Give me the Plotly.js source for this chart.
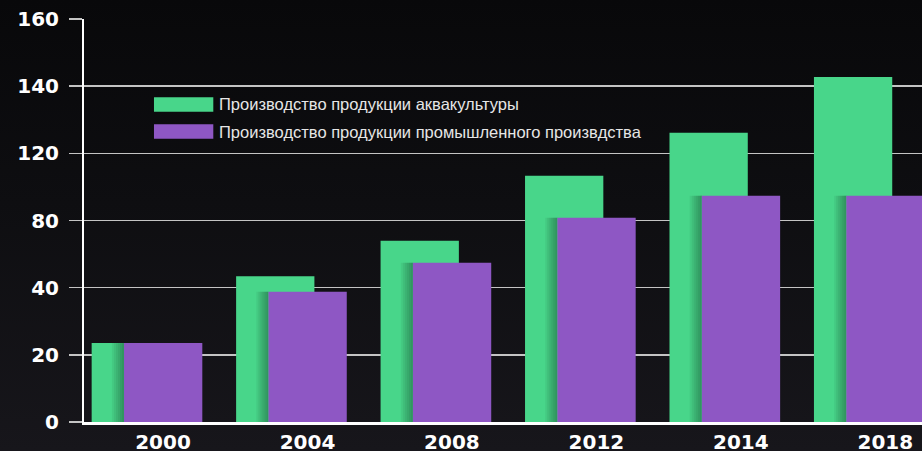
<!DOCTYPE html>
<html>
<head>
<meta charset="utf-8">
<script src="https://cdn.plot.ly/plotly-3.0.1.min.js"></script>
<style>
  html, body { margin: 0; padding: 0; width: 922px; height: 451px; overflow: hidden;
    background: linear-gradient(to bottom, #08080a 0%, #0e0e11 45%, #17161b 100%); }
  #chart { width: 922px; height: 451px; }
</style>
</head>
<body>
<div id="chart"></div>
<script>
// Categories (years)
const years = ['2000', '2004', '2008', '2012', '2014', '2018'];
// Values read in the chart's (evenly spaced) axis units; the source axis labels are non-linear
const aquaculture = [23.5, 43.4, 54.0, 73.3, 86.1, 102.7];
const capture     = [23.5, 38.8, 47.4, 60.8, 67.4, 67.4];
// Y tick positions and the labels printed on them in the source
const yTickVals = [0, 20, 40, 60, 80, 100, 120];
const yTickText = ['0', '20', '40', '80', '120', '140', '160'];
const seriesNames = ['Производство продукции аквакультуры', 'Производство продукции промышленного произвдства'];

const GREEN = '#48d68a';
const PURPLE = '#8e57c4';
const BW = 0.542;
const P_OFF = -0.27;
const G_OFF = -0.494;
const TICK_FONT = '"DejaVu Sans", Verdana, sans-serif';
const TEXT_FONT = '"Liberation Sans", Arial, sans-serif';

const traces = [];
traces.push({
  type: 'bar', x: years, y: aquaculture, name: seriesNames[0],
  offset: G_OFF, width: BW, marker: { color: GREEN, line: { width: 0 } },
  showlegend: false, hoverinfo: 'x+y'
});
// soft shadow just left of the purple bars
for (let k = 1; k <= 6; k++) {
  const w = 0.014 * k;
  traces.push({
    type: 'bar', x: years, y: capture, offset: P_OFF - w, width: w,
    marker: { color: 'rgba(0,0,0,0.055)', line: { width: 0 } },
    showlegend: false, hoverinfo: 'skip'
  });
}
traces.push({
  type: 'bar', x: years, y: capture, name: seriesNames[1],
  offset: P_OFF, width: BW, marker: { color: PURPLE, line: { width: 0 } },
  showlegend: false, hoverinfo: 'x+y'
});

const layout = {
  width: 922, height: 451,
  margin: { l: 84, r: 0, t: 19, b: 28.5, pad: 0 },
  paper_bgcolor: 'rgba(0,0,0,0)',
  plot_bgcolor: 'rgba(0,0,0,0)',
  barmode: 'overlay',
  showlegend: false,
  font: { family: TEXT_FONT, color: '#ffffff' },
  xaxis: {
    type: 'category', range: [-0.547, 5.254], fixedrange: true,
    showgrid: false, zeroline: false,
    showline: true, linecolor: '#ffffff', linewidth: 2.5,
    ticks: '', tickfont: { size: 20, color: '#ffffff', weight: 'bold', family: TICK_FONT },
    ticklabelstandoff: 0
  },
  yaxis: {
    range: [0, 120], fixedrange: true,
    tickvals: yTickVals, ticktext: yTickText,
    showgrid: true, gridcolor: '#c4c4c4', gridwidth: 1.5,
    zeroline: false,
    showline: true, linecolor: '#ffffff', linewidth: 2,
    ticks: 'outside', ticklen: 13, tickwidth: 1.5, tickcolor: '#c4c4c4',
    tickfont: { size: 20, color: '#ffffff', weight: 'bold', family: TICK_FONT },
    ticklabelstandoff: 6
  },
  shapes: [
    { type: 'rect', xref: 'paper', yref: 'paper', x0: 0.0835, x1: 0.1543, y0: 0.770, y1: 0.806,
      fillcolor: GREEN, line: { width: 0 } },
    { type: 'rect', xref: 'paper', yref: 'paper', x0: 0.0835, x1: 0.1543, y0: 0.7026, y1: 0.739,
      fillcolor: PURPLE, line: { width: 0 } }
  ],
  annotations: [
    { xref: 'paper', yref: 'paper', x: 0.1585, y: 0.788, xanchor: 'left', yanchor: 'middle',
      text: seriesNames[0], showarrow: false,
      font: { size: 16.5, color: '#e6e6e6', family: TEXT_FONT } },
    { xref: 'paper', yref: 'paper', x: 0.1585, y: 0.7207, xanchor: 'left', yanchor: 'middle',
      text: seriesNames[1], showarrow: false,
      font: { size: 16.5, color: '#e6e6e6', family: TEXT_FONT } }
  ]
};

Plotly.newPlot('chart', traces, layout, { displayModeBar: false, staticPlot: true });
</script>
</body>
</html>
